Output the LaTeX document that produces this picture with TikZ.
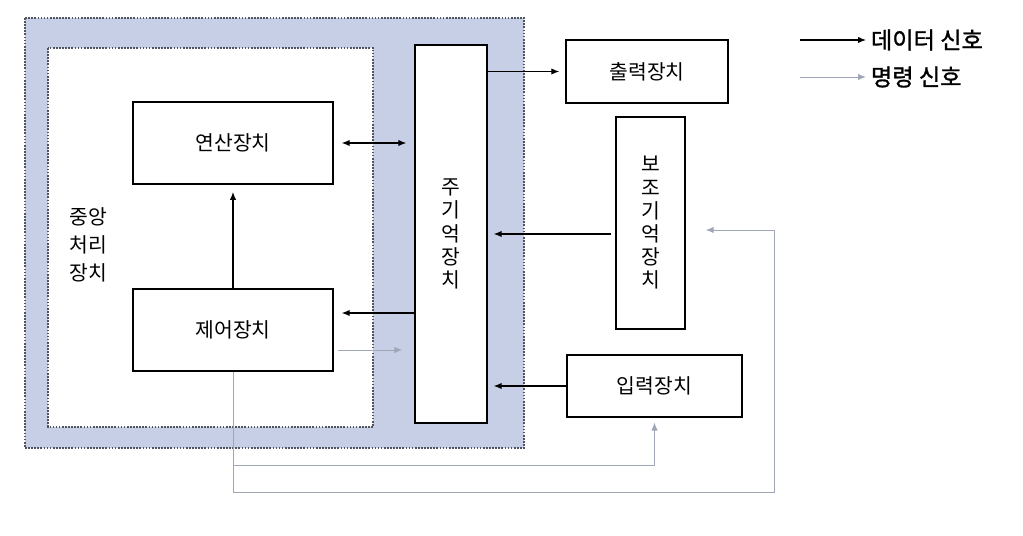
\documentclass[tikz,border=0pt]{standalone}
\usepackage{fontspec}
\setmainfont[AutoFakeBold=1.2]{Noto Sans CJK KR}
\usetikzlibrary{arrows.meta, positioning, calc}
\definecolor{cpuBlue}{RGB}{198,207,229}
\definecolor{cmdGray}{RGB}{160,166,184}
\definecolor{rimGray}{RGB}{80,84,96}

\begin{document}
\begin{tikzpicture}[
    x=0.025cm, y=-0.025cm,
    every node/.style={font=\fontsize{14.5}{16.5}\selectfont},
    unit/.style 2 args={rectangle, draw, line width=1pt, fill=white, minimum width=#1, minimum height=#2, inner sep=0pt, align=center},
    region/.style={draw=rimGray, line width=0.8pt, dash pattern=on 1.2pt off 1pt},
    data/.style={-{Latex[length=2mm, width=1.6mm]}, line width=0.8pt},
    cmd/.style={-{Latex[length=2mm, width=1.6mm]}, line width=0.7pt, cmdGray},
    key/.style={anchor=west, font=\fontsize{16.5}{18}\selectfont\bfseries}
]
\useasboundingbox (0,0) rectangle (1023,536);

% CPU regions
\draw[region, fill=cpuBlue] (25,18) rectangle (524,448);
\draw[region, fill=white] (48,48) rectangle (373,427);
\node[align=center, font=\fontsize{14.5}{20}\selectfont] (cpuLabel) at (88,245) {중앙\\처리\\장치};

% Units inside the CPU
\node[unit={5cm}{2.05cm}] (alu) at (233,143) {연산장치};
\node[unit={5cm}{2.05cm}] (ctrl) at (233,330) {제어장치};
\node[unit={1.8cm}{9.45cm}] (mem) at (451,234) {주\\기\\억\\장\\치};

% Peripheral units
\node[unit={4.05cm}{1.575cm}] (out) at (647,71.5) {출력장치};
\node[unit={1.725cm}{5.3cm}] (aux) at (650.5,223) {보\\조\\기\\억\\장\\치};
\node[unit={4.375cm}{1.55cm}] (in) at (654.5,386) {입력장치};

% Data signals
\draw[data, {Latex[length=2mm, width=1.6mm]}-{Latex[length=2mm, width=1.6mm]}, shorten <=0.2cm, shorten >=0.2cm] (alu.east) -- (alu.east -| mem.west);
\draw[data, shorten >=0.2cm] ($(mem.west)+(0,79)$) -- ($(ctrl.east)+(0,-17)$);
\draw[data, shorten >=0.18cm] (ctrl.north) -- (alu.south);
\draw[data, shorten >=0.15cm] (out.west -| mem.east) -- (out.west);
\coordinate (auxOut) at ($(aux.west)+(0,11)$);
\draw[data, shorten <=0.1cm, shorten >=0.15cm] (auxOut) -- (auxOut -| mem.east);
\draw[data, shorten >=0.15cm] (in.west) -- (in.west -| mem.east);

% Command signals
\draw[cmd, shorten <=0.1cm, shorten >=0.3cm] ($(ctrl.east)+(0,20)$) -- ($(ctrl.east -| mem.west)+(0,20)$);
\draw[cmd, shorten >=0.12cm] (ctrl.south) |- ($(in.south)+(0,48)$) -- (in.south);
\coordinate (auxTurn) at ($(aux.east)+(89,7)$);
\draw[cmd] (ctrl.south) -- ++(0,121) -| (auxTurn) -- ($(aux.east)+(20,7)$);

% Legend
\coordinate (dataFrom) at (800,40);
\coordinate (cmdFrom) at (800,77);
\node[key] (dataKey) at (866,40) {데이터 신호};
\node[key] (cmdKey) at (866,77) {명령 신호};
\draw[data] (dataFrom) -- (dataKey.west);
\draw[cmd] (cmdFrom) -- (cmdKey.west);

\end{tikzpicture}
\end{document}
